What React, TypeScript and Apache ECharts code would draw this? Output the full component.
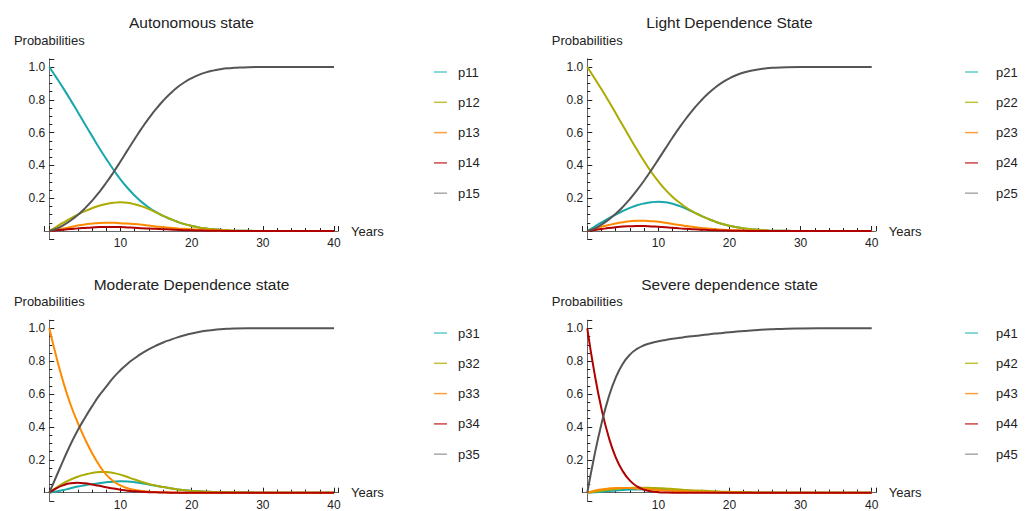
import React, { useEffect, useRef } from "react";
import * as echarts from "echarts";

// Years sampled
const years = [0, 1, 2, 3, 4, 5, 6, 7, 8, 9, 10, 11, 12, 13, 14, 15, 16, 17, 18, 19, 20, 21, 22, 23, 24, 25, 26, 28, 30, 35, 40];

// Panel titles
const titles = ["Autonomous state", "Light Dependence State", "Moderate Dependence state", "Severe dependence state"];

// Series names per panel
const names1 = ["p11", "p12", "p13", "p14", "p15"];
const names2 = ["p21", "p22", "p23", "p24", "p25"];
const names3 = ["p31", "p32", "p33", "p34", "p35"];
const names4 = ["p41", "p42", "p43", "p44", "p45"];

// Panel 1: Autonomous state
const p11 = [1.0, 0.935, 0.868, 0.798, 0.726, 0.653, 0.58, 0.508, 0.44, 0.375, 0.315, 0.262, 0.216, 0.176, 0.143, 0.115, 0.092, 0.073, 0.056, 0.042, 0.031, 0.022, 0.016, 0.011, 0.007, 0.004, 0.002, 0.001, 0, 0, 0];
const p12 = [0, 0.026, 0.052, 0.077, 0.1, 0.121, 0.139, 0.154, 0.165, 0.172, 0.175, 0.172, 0.163, 0.15, 0.133, 0.113, 0.092, 0.073, 0.056, 0.042, 0.031, 0.022, 0.016, 0.011, 0.007, 0.004, 0.002, 0.001, 0, 0, 0];
const p13 = [0, 0.008, 0.015, 0.024, 0.033, 0.04, 0.045, 0.049, 0.05, 0.05, 0.048, 0.045, 0.042, 0.038, 0.033, 0.028, 0.024, 0.02, 0.016, 0.013, 0.01, 0.008, 0.006, 0.004, 0.003, 0.002, 0.001, 0.0005, 0, 0, 0];
const p14 = [0, 0.004, 0.008, 0.012, 0.016, 0.019, 0.022, 0.024, 0.025, 0.025, 0.024, 0.022, 0.02, 0.017, 0.015, 0.013, 0.011, 0.009, 0.007, 0.005, 0.004, 0.003, 0.002, 0.0015, 0.001, 0.0005, 0, 0, 0, 0, 0];
const p15 = [0, 0.014, 0.036, 0.064, 0.098, 0.138, 0.184, 0.236, 0.294, 0.357, 0.424, 0.493, 0.561, 0.627, 0.688, 0.744, 0.794, 0.838, 0.876, 0.907, 0.932, 0.952, 0.967, 0.978, 0.986, 0.992, 0.995, 0.999, 1, 1, 1];

// Panel 2: Light Dependence State
const p21 = [0, 0.026, 0.052, 0.077, 0.1, 0.122, 0.141, 0.157, 0.168, 0.175, 0.178, 0.175, 0.166, 0.152, 0.134, 0.114, 0.093, 0.074, 0.057, 0.043, 0.032, 0.023, 0.016, 0.011, 0.007, 0.004, 0.002, 0.001, 0, 0, 0];
const p22 = [1.0, 0.933, 0.864, 0.792, 0.718, 0.643, 0.568, 0.495, 0.425, 0.36, 0.302, 0.251, 0.208, 0.172, 0.14, 0.114, 0.093, 0.074, 0.057, 0.043, 0.032, 0.023, 0.016, 0.011, 0.007, 0.004, 0.002, 0.001, 0, 0, 0];
const p23 = [0, 0.012, 0.025, 0.036, 0.046, 0.054, 0.06, 0.063, 0.063, 0.06, 0.056, 0.05, 0.043, 0.036, 0.03, 0.024, 0.019, 0.015, 0.011, 0.008, 0.006, 0.004, 0.003, 0.002, 0.001, 0.001, 0, 0, 0, 0, 0];
const p24 = [0, 0.006, 0.012, 0.018, 0.023, 0.027, 0.029, 0.03, 0.03, 0.028, 0.026, 0.023, 0.02, 0.016, 0.013, 0.01, 0.008, 0.006, 0.004, 0.003, 0.002, 0.001, 0.001, 0, 0, 0, 0, 0, 0, 0, 0];
const p25 = [0, 0.015, 0.039, 0.069, 0.105, 0.147, 0.195, 0.249, 0.308, 0.371, 0.437, 0.504, 0.57, 0.633, 0.692, 0.746, 0.795, 0.838, 0.875, 0.906, 0.931, 0.951, 0.966, 0.977, 0.985, 0.991, 0.995, 0.999, 1, 1, 1];

// Panel 3: Moderate Dependence state
const p31 = [0, 0.007, 0.016, 0.027, 0.037, 0.045, 0.052, 0.058, 0.063, 0.067, 0.069, 0.068, 0.064, 0.057, 0.05, 0.042, 0.034, 0.027, 0.02, 0.015, 0.011, 0.008, 0.006, 0.004, 0.003, 0.002, 0.001, 0.0005, 0, 0, 0];
const p32 = [0, 0.03, 0.058, 0.08, 0.097, 0.11, 0.12, 0.126, 0.126, 0.12, 0.11, 0.095, 0.08, 0.066, 0.053, 0.042, 0.034, 0.027, 0.02, 0.015, 0.011, 0.008, 0.006, 0.004, 0.003, 0.002, 0.001, 0.0005, 0, 0, 0];
const p33 = [1.0, 0.825, 0.668, 0.535, 0.425, 0.328, 0.242, 0.168, 0.11, 0.07, 0.044, 0.027, 0.017, 0.01, 0.006, 0.004, 0.002, 0.001, 0.0005, 0, 0, 0, 0, 0, 0, 0, 0, 0, 0, 0, 0];
const p34 = [0, 0.027, 0.046, 0.057, 0.06, 0.057, 0.05, 0.042, 0.033, 0.025, 0.018, 0.012, 0.008, 0.005, 0.003, 0.002, 0.001, 0, 0, 0, 0, 0, 0, 0, 0, 0, 0, 0, 0, 0, 0];
const p35 = [0, 0.1, 0.2, 0.295, 0.38, 0.455, 0.525, 0.59, 0.645, 0.7, 0.745, 0.785, 0.818, 0.848, 0.873, 0.895, 0.914, 0.93, 0.945, 0.958, 0.969, 0.978, 0.985, 0.99, 0.994, 0.997, 0.999, 1, 1, 1, 1];

// Panel 4: Severe dependence state
const p41 = [0, 0.002, 0.006, 0.01, 0.014, 0.017, 0.019, 0.02, 0.02, 0.019, 0.018, 0.016, 0.014, 0.012, 0.01, 0.008, 0.006, 0.005, 0.004, 0.003, 0.002, 0.0015, 0.001, 0.0005, 0, 0, 0, 0, 0, 0, 0];
const p42 = [0, 0.005, 0.012, 0.018, 0.023, 0.027, 0.029, 0.03, 0.03, 0.029, 0.027, 0.025, 0.022, 0.019, 0.016, 0.014, 0.012, 0.01, 0.008, 0.006, 0.005, 0.004, 0.003, 0.002, 0.0015, 0.001, 0.0005, 0, 0, 0, 0];
const p43 = [0, 0.012, 0.02, 0.025, 0.028, 0.029, 0.028, 0.026, 0.023, 0.02, 0.017, 0.014, 0.011, 0.009, 0.007, 0.005, 0.004, 0.003, 0.002, 0.0015, 0.001, 0.0005, 0, 0, 0, 0, 0, 0, 0, 0, 0];
const p44 = [1.0, 0.73, 0.51, 0.34, 0.215, 0.13, 0.073, 0.038, 0.018, 0.008, 0.003, 0.001, 0, 0, 0, 0, 0, 0, 0, 0, 0, 0, 0, 0, 0, 0, 0, 0, 0, 0, 0];
const p45 = [0, 0.225, 0.42, 0.58, 0.7, 0.785, 0.84, 0.875, 0.897, 0.911, 0.921, 0.929, 0.936, 0.942, 0.948, 0.953, 0.958, 0.963, 0.968, 0.972, 0.976, 0.98, 0.984, 0.987, 0.99, 0.993, 0.995, 0.998, 0.999, 1, 1];

const yTickLabels = [0.2, 0.4, 0.6, 0.8, 1.0];
const xTickLabels = [10, 20, 30, 40];

const panelNames = [names1, names2, names3, names4];
const panelValues = [
  [p11, p12, p13, p14, p15],
  [p21, p22, p23, p24, p25],
  [p31, p32, p33, p34, p35],
  [p41, p42, p43, p44, p45],
];

const lineColors = ["#18a7aa", "#abab00", "#ff8a00", "#b00000", "#555555"];
const legendColors = ["#62cbcb", "#c2c23a", "#ffa040", "#cc4747", "#a8a8a8"];

const FONT = "'Liberation Sans', Arial, Helvetica, sans-serif";

const X_MIN = -0.7;
const X_MAX = 40.6;
const Y_MIN = -0.05;
const Y_MAX = 1.05;

const grids = [
  { left: 44.3, top: 58.8, width: 294, height: 180.4 },
  { left: 582.3, top: 58.8, width: 293.7, height: 180.4 },
  { left: 44.3, top: 320.1, width: 294, height: 180.8 },
  { left: 582.3, top: 320.1, width: 293.7, height: 180.8 },
];
const titlePos = [
  { x: 191.5, y: 22.5 },
  { x: 729.5, y: 22.5 },
  { x: 191.5, y: 284 },
  { x: 729.5, y: 284 },
];
const legendPos = [
  { left: 429, top: 60, pad: 6 },
  { left: 960, top: 60, pad: 13 },
  { left: 429, top: 321, pad: 6 },
  { left: 960, top: 321, pad: 13 },
];

export default function App() {
  const ref = useRef<HTMLDivElement>(null);
  useEffect(() => {
    if (!ref.current) return;
    const chart = echarts.init(ref.current, null, { renderer: "svg" });

    const xAxes: any[] = [];
    const yAxes: any[] = [];
    const series: any[] = [];
    const legends: any[] = [];
    const graphics: any[] = [];

    for (let p = 0; p < 4; p++) {
      const g = grids[p];
      // shift the y axis so that it sits at x = 0
      const yOffset = -((0 - X_MIN) / (X_MAX - X_MIN)) * g.width;
      // shift the x axis up so that it sits at y = 0
      const xOffset = -((0 - Y_MIN) / (Y_MAX - Y_MIN)) * g.height;
      xAxes.push({
        type: "value",
        gridIndex: p,
        min: X_MIN,
        max: X_MAX,
        splitNumber: 4,
        offset: xOffset,
        name: "Years",
        nameLocation: "end",
        nameGap: 12.7,
        nameTextStyle: { fontSize: 13, color: "#222", fontFamily: FONT },
        axisLine: { onZero: false, lineStyle: { color: "#666", width: 1 } },
        axisTick: { show: true, inside: true, length: 5, lineStyle: { color: "#222" } },
        minorTick: { show: true, splitNumber: 5, length: 3, lineStyle: { color: "#222" } },
        splitLine: { show: false },
        minorSplitLine: { show: false },
        axisLabel: {
          margin: 6,
          fontSize: 12,
          color: "#222",
          fontFamily: FONT,
          formatter: (v: number) => {
            const m = xTickLabels.find((t) => Math.abs(t - v) < 1e-6);
            return m !== undefined ? String(m) : "";
          },
        },
      });
      yAxes.push({
        type: "value",
        gridIndex: p,
        min: Y_MIN,
        max: Y_MAX,
        splitNumber: 5,
        offset: yOffset,
        name: "Probabilities",
        nameLocation: "end",
        nameGap: 12,
        nameTextStyle: { fontSize: 13, color: "#222", fontFamily: FONT, align: "center" },
        axisLine: { show: true, onZero: false, lineStyle: { color: "#666", width: 1 } },
        axisTick: { show: true, inside: true, length: 5, lineStyle: { color: "#222" } },
        minorTick: { show: true, splitNumber: 4, length: 3, lineStyle: { color: "#222" } },
        splitLine: { show: false },
        minorSplitLine: { show: false },
        axisLabel: {
          margin: 4,
          fontSize: 12,
          color: "#222",
          fontFamily: FONT,
          formatter: (v: number) => {
            const m = yTickLabels.find((t) => Math.abs(t - v) < 1e-6);
            return m !== undefined ? m.toFixed(1) : "";
          },
        },
      });
      const names = panelNames[p];
      names.forEach((nm, i) => {
        series.push({
          name: nm,
          type: "line",
          xAxisIndex: p,
          yAxisIndex: p,
          data: years.map((y, k) => [y, panelValues[p][i][k]]),
          showSymbol: false,
          smooth: 0.5,
          lineStyle: { color: lineColors[i], width: 2 },
          itemStyle: { color: lineColors[i] },
          z: 2 + i,
        });
      });
      legends.push({
        orient: "vertical",
        left: legendPos[p].left,
        top: legendPos[p].top,
        icon: "rect",
        itemWidth: 13,
        itemHeight: 1.5,
        itemGap: 16.3,
        selectedMode: false,
        textStyle: {
          fontSize: 13,
          lineHeight: 14,
          color: "#222",
          fontFamily: FONT,
          padding: [0, 0, 0, legendPos[p].pad],
        },
        data: names.map((nm, i) => ({ name: nm, itemStyle: { color: legendColors[i] } })),
      });
      graphics.push({
        type: "text",
        x: titlePos[p].x,
        y: titlePos[p].y,
        style: {
          text: titles[p],
          textAlign: "center",
          textVerticalAlign: "middle",
          fontSize: 15.5,
          fill: "#222",
          fontFamily: FONT,
        },
      });
    }

    chart.setOption({
      animation: false,
      backgroundColor: "#ffffff",
      grid: grids,
      xAxis: xAxes,
      yAxis: yAxes,
      series,
      legend: legends,
      graphic: graphics,
    });
    return () => chart.dispose();
  }, []);

  return (
    <div
      ref={ref}
      style={{ position: "fixed", left: 0, top: 0, width: 1032, height: 511, background: "#fff" }}
    />
  );
}
